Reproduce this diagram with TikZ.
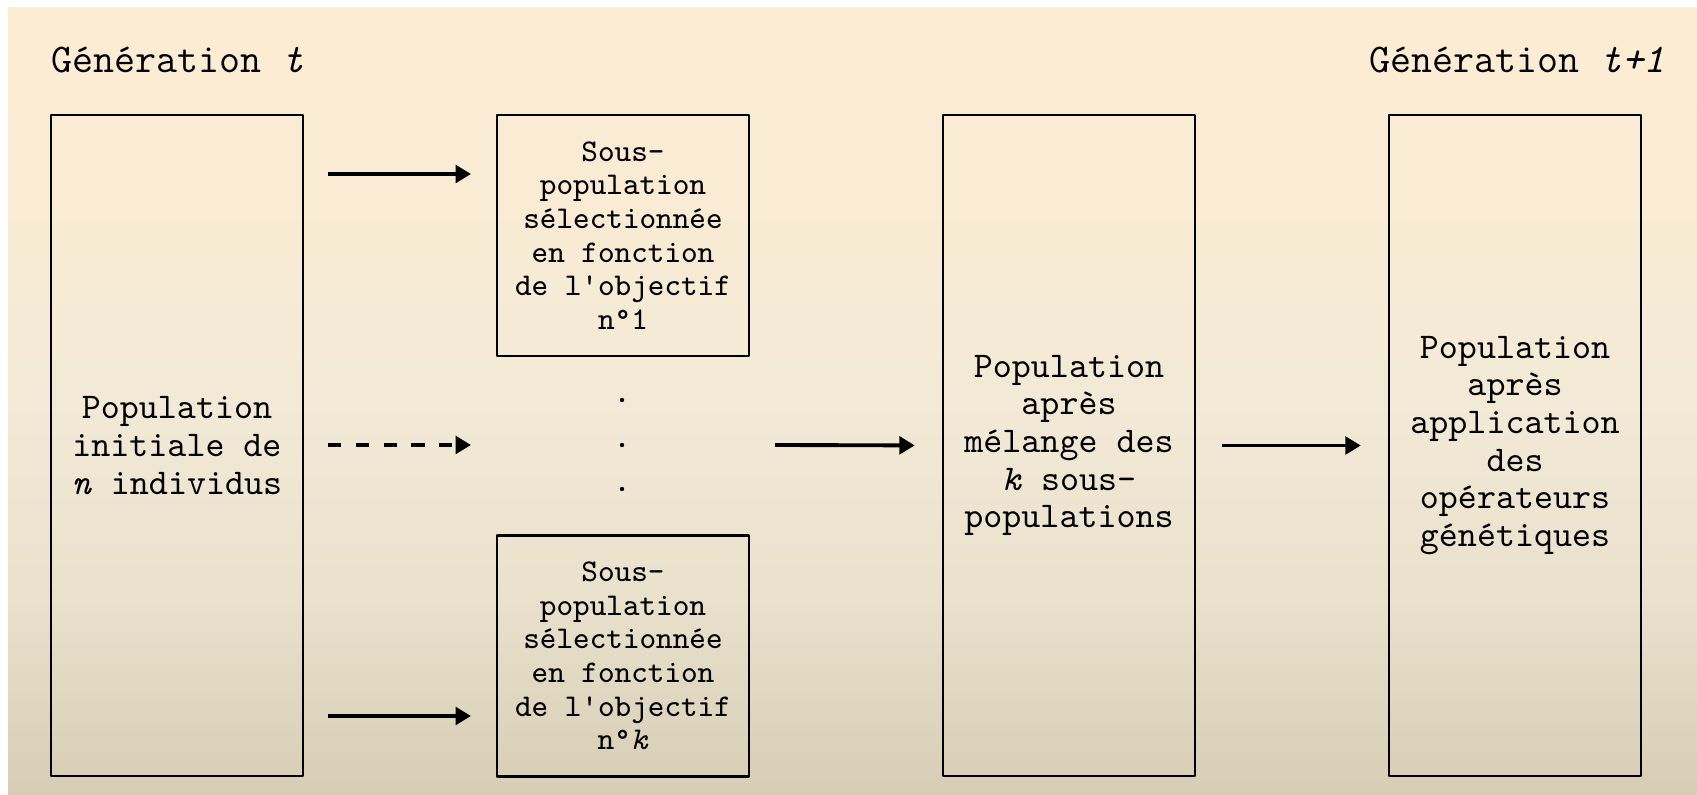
\documentclass[tikz,border=0pt]{standalone}
\usepackage{fontspec}
\usetikzlibrary{arrows.meta}

\definecolor{fondA}{RGB}{252,236,211}
\definecolor{fondB}{RGB}{249,235,212}
\definecolor{fondC}{RGB}{242,234,214}
\definecolor{fondD}{RGB}{233,225,204}
\definecolor{fondE}{RGB}{215,205,181}
\pgfdeclareverticalshading{fondgen}{100bp}{color(0bp)=(fondE); color(25bp)=(fondE);
  color(37.5bp)=(fondD); color(50bp)=(fondC); color(62.5bp)=(fondB); color(75bp)=(fondA); color(100bp)=(fondA)}

\begin{document}
\begin{tikzpicture}[x=1mm, y=-1mm, line join=round, >={Triangle[length=4.4pt,width=5pt]},
	boite/.style={draw, line width=0.7pt, minimum width=25.2mm, inner sep=0pt, align=center,
		font=\ttfamily\fontsize{10.3}{10.7}\selectfont},
	petite/.style={boite, minimum height=24.1mm, font=\ttfamily\fontsize{9}{9.55}\selectfont},
	grande/.style={boite, minimum height=66.1mm},
	fleche/.style={->, line width=1.1pt},
	pointille/.style={dash pattern=on 3.8pt off 4.1pt},
	titre/.style={anchor=base west, inner sep=0pt, font=\ttfamily\fontsize{11.6}{12}\selectfont}]
	\useasboundingbox (0,0) rectangle (169.7,79.5);
	\fill[white] (0,0) rectangle (169.7,79.5);
	\shade[shading=fondgen] (0.8,0.8) rectangle (169.7,79.5);
	
	\node[titre] (gent) at (5.1,7.3) {Génération \textit{t}};
	\node[titre] (gensuiv) at (136.9,7.3) {Génération \textit{t+1}};
	
	\node[grande] (init) at (17.7,44.55) {Population\\initiale de\\\textit{n} individus};
	\node[petite] (sous1) at (62.3,23.55) {Sous-\\population\\sélectionnée\\en fonction\\de l'objectif\\n°1};
	\node[petite] (sousk) at (62.3,65.6) {Sous-\\population\\sélectionnée\\en fonction\\de l'objectif\\n°\textit{k}};
	\node[grande] (melange) at (106.9,44.55) {Population\\après\\mélange des\\\textit{k} sous-\\populations};
	\node[grande] (suivante) at (151.5,44.55) {Population\\après\\application\\des\\opérateurs\\génétiques};
	
	\foreach \i/\y/\trait in {1/17.4/solid,2/44.5/pointille,3/71.6/solid}{
		\coordinate (d\i) at (32.8,\y);
		\coordinate (f\i) at (47.1,\y);
		\draw[fleche,\trait] (d\i) -- (f\i);
	}
	\foreach \y in {40,44.5,48.9}
	\fill (62.2,\y) circle (0.22);
	
	\coordinate (dm) at (77.5,44.5);
	\draw[fleche,shorten >=2.7mm] (dm) -- (melange.west);
	\draw[fleche,shorten <=2.6mm,shorten >=2.7mm] (melange.east) -- (suivante.west);
\end{tikzpicture}
\end{document}
